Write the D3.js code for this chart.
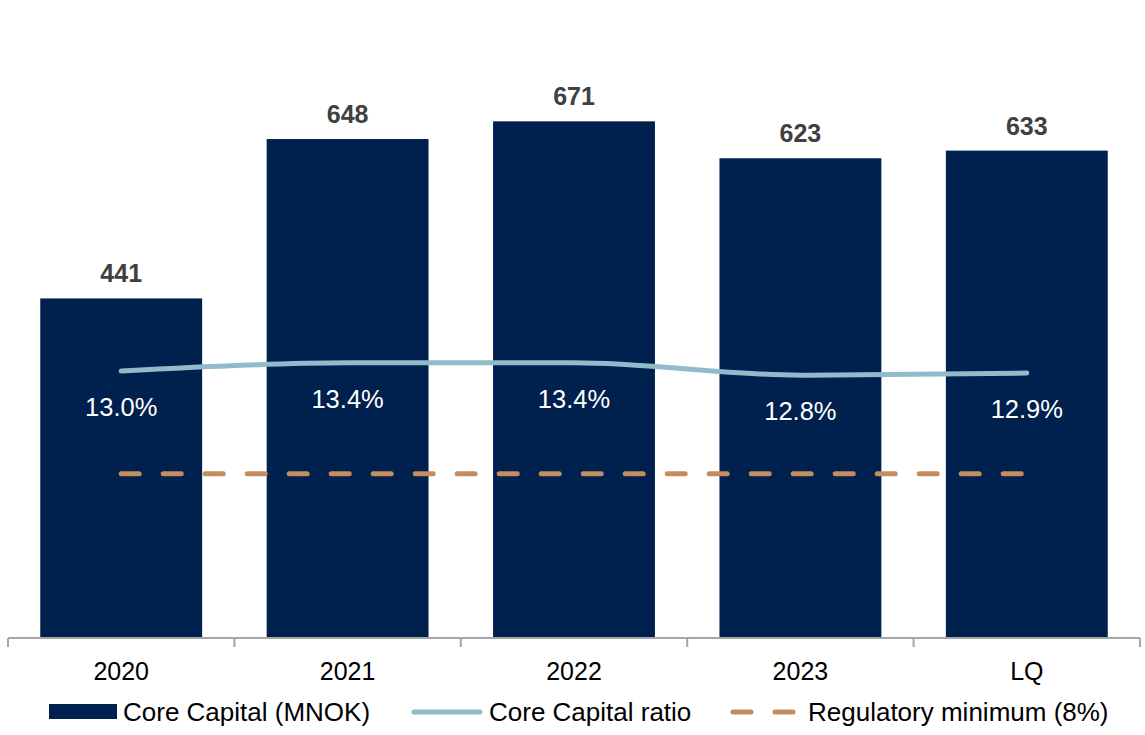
<!DOCTYPE html>
<html>
<head>
<meta charset="utf-8">
<script src="https://cdn.jsdelivr.net/npm/d3@7"></script>
<style>
  html, body { margin: 0; padding: 0; background: #ffffff; }
  svg { display: block; font-family: "Liberation Sans", Arial, sans-serif; }
</style>
</head>
<body>
<svg id="chart" width="1145" height="735"></svg>
<script>
// Core capital per period and the corresponding ratio
const categories = ["2020", "2021", "2022", "2023", "LQ"];
const coreCapital = [441, 648, 671, 623, 633];          // MNOK
const coreCapitalRatio = [13.0, 13.4, 13.4, 12.8, 12.9]; // %
const regulatoryMinimum = [8, 8, 8, 8, 8];               // %
const legendLabels = ["Core Capital (MNOK)", "Core Capital ratio", "Regulatory minimum (8%)"];

const colors = {
  bar: "#00204E",
  ratio: "#8FBBCA",
  minimum: "#C38D5E",
  valueText: "#404040",
  axis: "#A6A6A6",
  text: "#000000"
};

const svg = d3.select("#chart");
const plot = { left: 8, right: 1140, top: 22, bottom: 638 };

const x = d3.scaleBand()
  .domain(categories)
  .range([plot.left, plot.right])
  .paddingInner(0.285)
  .paddingOuter(0.1425);

const y = d3.scaleLinear().domain([0, 800]).range([plot.bottom, plot.top]);
const yPct = d3.scaleLinear().domain([0, 30]).range([plot.bottom, plot.top]);

const cx = d => x(d) + x.bandwidth() / 2;

// Bars
svg.append("g")
  .selectAll("rect")
  .data(categories)
  .join("rect")
  .attr("x", d => x(d))
  .attr("y", (d, i) => y(coreCapital[i]))
  .attr("width", x.bandwidth())
  .attr("height", (d, i) => y(0) - y(coreCapital[i]))
  .attr("fill", colors.bar);

// Bar value labels
svg.append("g")
  .selectAll("text")
  .data(categories)
  .join("text")
  .attr("x", d => cx(d))
  .attr("y", (d, i) => y(coreCapital[i]) - 16)
  .attr("text-anchor", "middle")
  .attr("font-size", 25)
  .attr("font-weight", "bold")
  .attr("fill", colors.valueText)
  .text((d, i) => coreCapital[i]);

// Regulatory minimum (dashed)
const minLine = d3.line()
  .x((d, i) => cx(categories[i]))
  .y(d => yPct(d));

svg.append("path")
  .datum(regulatoryMinimum)
  .attr("d", minLine)
  .attr("fill", "none")
  .attr("stroke", colors.minimum)
  .attr("stroke-width", 5)
  .attr("stroke-linecap", "round")
  .attr("stroke-dasharray", "18,24");

// Core capital ratio line
const ratioLine = d3.line()
  .x((d, i) => cx(categories[i]))
  .y(d => yPct(d))
  .curve(d3.curveMonotoneX);

svg.append("path")
  .datum(coreCapitalRatio)
  .attr("d", ratioLine)
  .attr("fill", "none")
  .attr("stroke", colors.ratio)
  .attr("stroke-width", 5)
  .attr("stroke-linecap", "round");

// Ratio labels
svg.append("g")
  .selectAll("text")
  .data(categories)
  .join("text")
  .attr("x", d => cx(d))
  .attr("y", (d, i) => yPct(coreCapitalRatio[i]) + 45)
  .attr("text-anchor", "middle")
  .attr("font-size", 25.5)
  .attr("fill", "#ffffff")
  .text((d, i) => coreCapitalRatio[i].toFixed(1) + "%");

// Category axis
const axis = svg.append("g")
  .attr("transform", `translate(0,${plot.bottom})`)
  .call(d3.axisBottom(x).tickSize(0).tickPadding(0));
axis.select(".domain").remove();
axis.selectAll("text")
  .attr("y", 42)
  .attr("dy", null)
  .attr("font-size", 25)
  .attr("font-family", "Liberation Sans, Arial, sans-serif")
  .attr("fill", colors.text);

axis.append("line")
  .attr("x1", plot.left).attr("x2", plot.right)
  .attr("y1", 0).attr("y2", 0)
  .attr("stroke", colors.axis)
  .attr("stroke-width", 2);

const boundaries = categories.map(d => x(d) - x.step() * x.paddingInner() / 2);
boundaries[0] = plot.left;
boundaries.push(plot.right);
axis.selectAll("line.sep")
  .data(boundaries)
  .join("line")
  .attr("class", "sep")
  .attr("x1", d => d).attr("x2", d => d)
  .attr("y1", 0).attr("y2", 9)
  .attr("stroke", colors.axis)
  .attr("stroke-width", 2);

// Legend
const legendY = 712;
const legend = svg.append("g").attr("font-size", 26).attr("fill", colors.text);

legend.append("rect")
  .attr("x", 49).attr("y", legendY - 8)
  .attr("width", 68).attr("height", 15)
  .attr("fill", colors.bar);
legend.append("text").attr("x", 123).attr("y", legendY + 9).text(legendLabels[0]);

legend.append("line")
  .attr("x1", 414).attr("x2", 480)
  .attr("y1", legendY).attr("y2", legendY)
  .attr("stroke", colors.ratio).attr("stroke-width", 5)
  .attr("stroke-linecap", "round");
legend.append("text").attr("x", 489).attr("y", legendY + 9).text(legendLabels[1]);

legend.append("line")
  .attr("x1", 733).attr("x2", 793)
  .attr("y1", legendY).attr("y2", legendY)
  .attr("stroke", colors.minimum).attr("stroke-width", 5)
  .attr("stroke-linecap", "round")
  .attr("stroke-dasharray", "18,24");
legend.append("text").attr("x", 808).attr("y", legendY + 9).text(legendLabels[2]);
</script>
</body>
</html>
